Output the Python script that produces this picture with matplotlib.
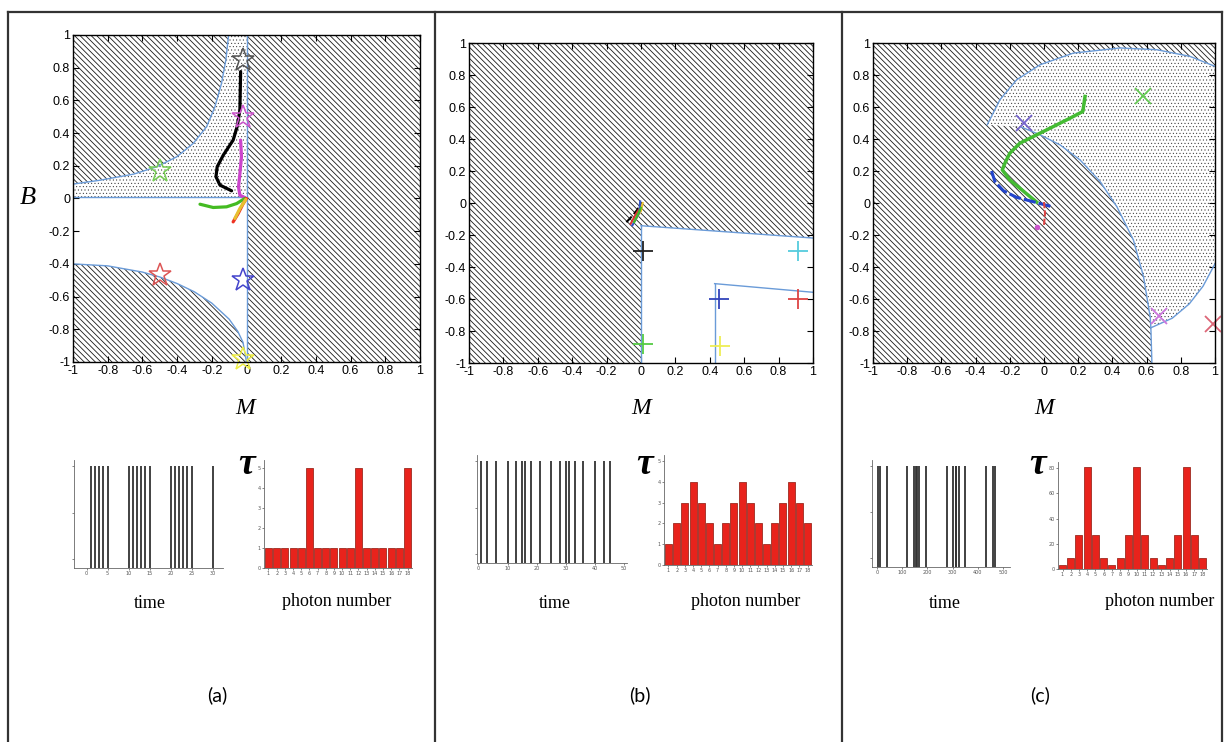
import numpy as np
import matplotlib
matplotlib.use("Agg")
import matplotlib.pyplot as plt
from matplotlib.patches import Polygon
from matplotlib.lines import Line2D
from matplotlib import font_manager

W, H = 1225, 742
plt.rcParams['axes.unicode_minus'] = False
plt.rcParams['hatch.linewidth'] = 0.6

names = {f.name for f in font_manager.fontManager.ttflist}
TICKFONT = 'Liberation Sans Narrow' if 'Liberation Sans Narrow' in names else 'Liberation Sans'
SERIF = 'Liberation Serif'
SANS = 'Lato' if 'Lato' in names else 'DejaVu Sans'

# ---------------- data ----------------
main_ticks = [-1, -0.8, -0.6, -0.4, -0.2, 0, 0.2, 0.4, 0.6, 0.8, 1]

# panel (a) region boundaries (M, B)
a_upper_M = [-1, -0.843, -0.651, -0.517, -0.402, -0.307, -0.230, -0.182, -0.144, -0.119, -0.103]
a_upper_B = [0.088, 0.112, 0.149, 0.194, 0.255, 0.337, 0.439, 0.561, 0.704, 0.847, 1.0]
a_lower_M = [-1, -0.8, -0.6, -0.5, -0.4, -0.3, -0.2, -0.1, -0.05, -0.02, 0]
a_lower_B = [-0.4, -0.412, -0.45, -0.48, -0.52, -0.571, -0.64, -0.738, -0.813, -0.88, -1.0]
a_floor_B = 0.01
a_stars_M = [-0.02, -0.02, -0.5, -0.5, -0.02, -0.02]
a_stars_B = [0.85, 0.5, 0.17, -0.47, -0.5, -0.98]
a_star_colors = ['#555555', '#cc55cc', '#77cc55', '#dd5555', '#4444cc', '#eeee44']
a_traj = {
    'black':   ([-0.034, -0.038, -0.054, -0.077, -0.134, -0.169, -0.176, -0.153, -0.086],
                [0.776, 0.541, 0.439, 0.357, 0.265, 0.194, 0.133, 0.082, 0.047]),
    '#cc44cc': ([-0.034, -0.029, -0.038, -0.046, -0.038, -0.01],
                [0.357, 0.255, 0.153, 0.071, 0.02, 0.006]),
    '#44bb22': ([-0.268, -0.192, -0.115, -0.057, -0.01],
                [-0.035, -0.055, -0.051, -0.031, 0.0]),
    '#ee3322': ([-0.077, -0.048, -0.019, 0.0],
                [-0.143, -0.092, -0.031, 0.0]),
    '#e8c030': ([-0.067, -0.038, -0.004],
                [-0.122, -0.061, -0.006]),
}

# panel (b)
b_white_M = [0, 0, 1, 1]
b_white_B = [-1, -0.142, -0.219, -1]
b_dot_M = [0.428, 0.428, 1, 1]
b_dot_B = [-1, -0.504, -0.558, -1]
b_plus_M = [0.01, 0.915, 0.455, 0.915, 0.01, 0.46]
b_plus_B = [-0.3, -0.3, -0.598, -0.598, -0.879, -0.896]
b_plus_colors = ['#222222', '#55ccdd', '#3344bb', '#dd4444', '#55cc44', '#eeee55']
b_traj = {
    'black':   ([-0.085, -0.05, -0.02, 0.0], [-0.12, -0.08, -0.04, 0.0]),
    '#dd3333': ([-0.06, -0.03, 0.0], [-0.13, -0.07, -0.02]),
    '#e8c030': ([-0.03, 0.0, 0.01], [-0.1, -0.05, 0.0]),
    '#3355cc': ([-0.05, -0.01, -0.005], [-0.14, -0.06, 0.01]),
    '#44bb22': ([-0.04, 0.0], [-0.12, -0.03]),
}

# panel (c)
c_upper_M = [-0.332, -0.258, -0.16, -0.023, 0.172, 0.445, 0.66, 0.855, 1.0]
c_upper_B = [0.489, 0.645, 0.77, 0.864, 0.937, 0.969, 0.958, 0.916, 0.854]
c_lowright_M = [1.0, 0.93, 0.85, 0.75, 0.625]
c_lowright_B = [-0.38, -0.52, -0.63, -0.72, -0.78]
c_disk_M = [-0.332, -0.131, -0.023, 0.094, 0.211, 0.328, 0.426, 0.523, 0.582, 0.621, 0.625, 0.631]
c_disk_B = [0.489, 0.474, 0.426, 0.363, 0.269, 0.134, -0.023, -0.232, -0.461, -0.712, -0.78, -1.0]
c_x_M = [-0.117, 0.578, 0.67, 0.99]
c_x_B = [0.499, 0.666, -0.708, -0.758]
c_x_colors = ['#7766cc', '#66cc55', '#cc77dd', '#dd6677']
c_green_M = [0.24, 0.227, 0.152, 0.055, -0.043, -0.141, -0.2, -0.229, -0.244, -0.2, -0.141, -0.082, -0.043]
c_green_B = [0.666, 0.572, 0.53, 0.478, 0.426, 0.374, 0.311, 0.248, 0.207, 0.144, 0.092, 0.04, 0.006]
c_blue_M = [-0.307, -0.287, -0.238, -0.16, -0.063, 0.045]
c_blue_B = [0.2, 0.134, 0.077, 0.035, 0.008, -0.023]
c_red_M = [0.0, 0.006, 0.0]
c_red_B = [0.006, -0.065, -0.138]

# spike trains and interval histograms
spikes_a = [1, 2, 3, 4, 5, 10, 11, 12, 13, 14, 15, 20, 21, 22, 23, 24, 25, 30]
spikes_b = [1, 3, 6, 10, 13, 15, 16, 18, 21, 25, 28, 30, 31, 33, 36, 40, 43, 45]
spikes_c = [3, 12, 39, 120, 147, 156, 159, 168, 195, 276, 303, 312, 315, 324, 351, 432, 459, 468]
photon_number = list(range(1, 19))
tau_a = [1, 1, 1, 1, 1, 5, 1, 1, 1, 1, 1, 5, 1, 1, 1, 1, 1, 5]
tau_b = [1, 2, 3, 4, 3, 2, 1, 2, 3, 4, 3, 2, 1, 2, 3, 4, 3, 2]
tau_c = [3, 9, 27, 81, 27, 9, 3, 9, 27, 81, 27, 9, 3, 9, 27, 81, 27, 9]

BLUE = '#6a9bd8'
HATCH = '\\' * 6
DOTS = '.' * 5

fig = plt.figure(figsize=(W / 100, H / 100), dpi=100)


def px_axes(l, t, r, b):
    return fig.add_axes([l / W, 1 - b / H, (r - l) / W, (b - t) / H])


def ftext(x, y, s, **kw):
    fig.text(x / W, 1 - y / H, s, ha='center', va='center', **kw)


def hatched(ax, M, B):
    plt.rcParams['hatch.linewidth'] = 0.6
    p = Polygon(list(zip(M, B)), closed=True, facecolor='white',
                edgecolor='#1a1a1a', linewidth=0, hatch=HATCH, zorder=1)
    ax.add_patch(p)


def dotted(ax, M, B):
    plt.rcParams['hatch.linewidth'] = 0.3
    p = Polygon(list(zip(M, B)), closed=True, facecolor='white',
                edgecolor='#222222', linewidth=0, hatch=DOTS, zorder=1.2)
    ax.add_patch(p)
    plt.rcParams['hatch.linewidth'] = 0.6


def white(ax, M, B):
    ax.add_patch(Polygon(list(zip(M, B)), closed=True, facecolor='white',
                         edgecolor='none', linewidth=0, zorder=1.4))


def setup_main(ax):
    ax.set_xlim(-1, 1)
    ax.set_ylim(-1, 1)
    ax.set_xticks(main_ticks)
    ax.set_yticks(main_ticks)
    ax.set_xticklabels([f"{t:g}" for t in main_ticks])
    ax.set_yticklabels([f"{t:g}" for t in main_ticks])
    ax.tick_params(direction='in', length=4, width=0.8, top=True, right=True,
                   labelsize=9, pad=2)
    for lab in ax.get_xticklabels() + ax.get_yticklabels():
        lab.set_fontfamily(TICKFONT)
    for sp in ax.spines.values():
        sp.set_linewidth(1.0)
        sp.set_zorder(5)


# ---------------- panel (a) ----------------
axa = px_axes(73, 35, 420, 362)
setup_main(axa)
hatched(axa, [0, 1, 1, 0], [-1, -1, 1, 1])
hatched(axa, [-1] + a_upper_M + [-1], [1] + a_upper_B + [1])
dotted(axa, [-1] + a_upper_M + [0, 0], [a_floor_B] + a_upper_B + [1, a_floor_B])
hatched(axa, [-1] + a_lower_M, [-1] + a_lower_B)
axa.plot(a_upper_M, a_upper_B, color=BLUE, lw=1, zorder=2)
axa.plot(a_lower_M, a_lower_B, color=BLUE, lw=1, zorder=2)
axa.plot([-1, 0], [a_floor_B, a_floor_B], color=BLUE, lw=1, zorder=2)
axa.plot([0, 0], [-1, 1], color=BLUE, lw=1, zorder=2)
for c, (m, b) in a_traj.items():
    axa.plot(m, b, color=c, lw=2.3, zorder=3, solid_capstyle='round')
for m, b, c in zip(a_stars_M, a_stars_B, a_star_colors):
    axa.plot([m], [b], marker='*', ms=17, mfc='none', mec=c, mew=1.1, zorder=4,
             clip_on=False)

# ---------------- panel (b) ----------------
axb = px_axes(469, 43, 813, 363)
setup_main(axb)
hatched(axb, [-1, 1, 1, -1], [-1, -1, 1, 1])
white(axb, b_white_M, b_white_B)
dotted(axb, b_dot_M, b_dot_B)
axb.plot(b_white_M[1:3], b_white_B[1:3], color=BLUE, lw=1, zorder=2)
axb.plot(b_white_M[0:2], b_white_B[0:2], color=BLUE, lw=1, zorder=2)
axb.plot(b_dot_M[1:3], b_dot_B[1:3], color=BLUE, lw=1, zorder=2)
axb.plot(b_dot_M[0:2], b_dot_B[0:2], color=BLUE, lw=1, zorder=2)
for c, (m, b) in b_traj.items():
    axb.plot(m, b, color=c, lw=1.5, zorder=3, ls='--' if c == 'black' else '-')
for m, b, c in zip(b_plus_M, b_plus_B, b_plus_colors):
    axb.plot([m], [b], marker='+', ms=15, mec=c, mew=1.3, zorder=4, clip_on=False)

# ---------------- panel (c) ----------------
axc = px_axes(873, 43, 1215, 363)
setup_main(axc)
hatched(axc, [-1, 1, 1, -1], [-1, -1, 1, 1])
dot_M = c_upper_M + c_lowright_M + c_disk_M[-3::-1]
dot_B = c_upper_B + c_lowright_B + c_disk_B[-3::-1]
dotted(axc, dot_M, dot_B)
white(axc, [c_disk_M[-1], c_disk_M[-2]] + c_lowright_M[::-1] + [1],
      [c_disk_B[-1], c_disk_B[-2]] + c_lowright_B[::-1] + [-1])
axc.plot(c_upper_M, c_upper_B, color=BLUE, lw=1, zorder=2)
axc.plot(c_lowright_M, c_lowright_B, color=BLUE, lw=1, zorder=2)
axc.plot(c_disk_M[1:], c_disk_B[1:], color=BLUE, lw=1, zorder=2)
axc.plot(c_green_M, c_green_B, color='#44bb33', lw=2.5, zorder=3)
axc.plot(c_blue_M, c_blue_B, color='#2244cc', lw=2.2, ls=(0, (4, 1)), zorder=3)
axc.plot(c_red_M, c_red_B, color='#dd4444', lw=1.5, ls=(0, (3, 1)), zorder=3)
axc.plot([-0.043], [-0.148], marker='o', ms=3, color='#cc55cc', zorder=3)
for m, b, c in zip(c_x_M, c_x_B, c_x_colors):
    axc.plot([m], [b], marker='x', ms=12, mec=c, mew=1.3, zorder=4, clip_on=False)

# ---------------- spike trains ----------------
def spike_axes(box, times, xlim, xticks):
    ax = px_axes(*box)
    ax.vlines(times, -0.1, 1, color='#333333', lw=1.3)
    ax.set_xlim(*xlim)
    ax.set_ylim(-0.1, 1.07)
    ax.set_xticks(xticks)
    ax.set_yticks([0, 0.5, 1])
    ax.set_yticklabels([])
    ax.tick_params(labelsize=3.5, length=1.5, width=0.5, pad=1, colors='#555555')
    for s in ['top', 'right']:
        ax.spines[s].set_visible(False)
    for s in ['left', 'bottom']:
        ax.spines[s].set_linewidth(0.6)
        ax.spines[s].set_color('#666666')
    return ax


spike_axes((74, 460, 223, 568), spikes_a, (-3, 32.5), [0, 5, 10, 15, 20, 25, 30])
spike_axes((477, 455, 627, 563), spikes_b, (-0.5, 51), [0, 10, 20, 30, 40, 50])
spike_axes((872, 460, 1010, 567), spikes_c, (-20, 528), [0, 100, 200, 300, 400, 500])


def hist_axes(box, vals, ylim, yticks):
    ax = px_axes(*box)
    ax.bar(photon_number, vals, width=0.85, color='#e8231c', edgecolor='#9e2a20', lw=0.6)
    ax.set_xlim(0.45, 18.55)
    ax.set_ylim(*ylim)
    ax.set_xticks(photon_number)
    ax.set_yticks(yticks)
    ax.tick_params(labelsize=3.5, length=1.5, width=0.5, pad=1, colors='#555555')
    for s in ['top', 'right']:
        ax.spines[s].set_visible(False)
    for s in ['left', 'bottom']:
        ax.spines[s].set_linewidth(0.6)
        ax.spines[s].set_color('#666666')
    return ax


hist_axes((264, 460, 412, 568), tau_a, (0, 5.4), [0, 1, 2, 3, 4, 5])
hist_axes((664, 455, 812, 565), tau_b, (0, 5.3), [0, 1, 2, 3, 4, 5])
hist_axes((1058, 462, 1207, 569), tau_c, (0, 85), [0, 20, 40, 60, 80])

# ---------------- texts ----------------
ftext(28, 198, 'B', family=SERIF, style='italic', fontsize=19)
for x in (245, 641, 1044):
    ftext(x, 408, 'M', family=SERIF, style='italic', fontsize=17)
for x in (247, 645, 1038):
    ftext(x, 464, 'τ', family=SERIF, style='italic', fontsize=27, fontweight='bold')
for x in (150, 555, 945):
    ftext(x, 604, 'time', family=SERIF, fontsize=13)
for x in (337, 746, 1160):
    ftext(x, 602, 'photon number', family=SERIF, fontsize=13)
for x, s in ((217, '(a)'), (640, '(b)'), (1040, '(c)')):
    ftext(x, 695, s, family=SANS, fontsize=14)

# ---------------- frame ----------------
fc = '#333333'
fig.add_artist(Line2D([8 / W, 1222 / W], [1 - 12 / H, 1 - 12 / H], color=fc, lw=1.6))
for x in (8, 435, 842, 1222):
    fig.add_artist(Line2D([x / W, x / W], [0, 1 - 12 / H], color=fc, lw=1.6))

fig.savefig('out.png', dpi=100)
